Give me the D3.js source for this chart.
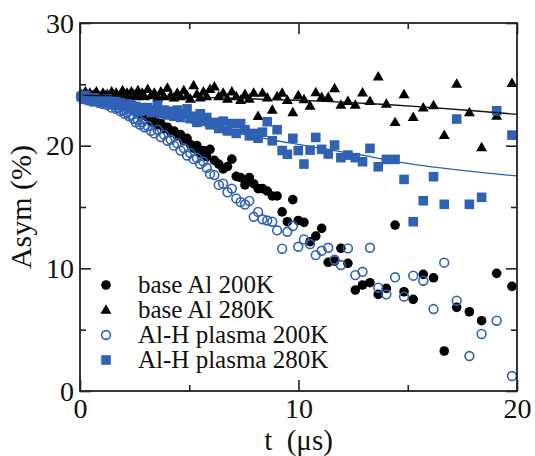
<!DOCTYPE html>
<html>
<head>
<meta charset="utf-8">
<script src="https://cdn.jsdelivr.net/npm/d3@7"></script>
<style>
  html, body { margin: 0; padding: 0; background: #fff; }
  svg { display: block; }
  svg text { font-family: "Liberation Serif", "Times New Roman", Times, "DejaVu Serif", serif !important; fill: #111; }
</style>
</head>
<body>
<svg id="chart" width="535" height="456"></svg>
<script>
// ---- data (time in µs, asymmetry in %) ----
const times = [
  0.05, 0.15, 0.25, 0.35, 0.45, 0.55, 0.65, 0.75, 0.85, 0.95,
  1.05, 1.15, 1.25, 1.35, 1.45, 1.55, 1.65, 1.75, 1.85, 1.95,
  2.05, 2.15, 2.25, 2.35, 2.45, 2.55, 2.65, 2.75, 2.85, 2.95,
  3.1, 3.25, 3.4, 3.55, 3.7, 3.85, 4.0, 4.15, 4.3, 4.45,
  4.6, 4.75, 4.9, 5.05, 5.2, 5.35, 5.5, 5.65, 5.8, 5.95,
  6.15, 6.35, 6.55, 6.75, 6.95, 7.15, 7.35, 7.55, 7.75, 7.95,
  8.15, 8.35, 8.57, 8.8, 9.02, 9.25, 9.49, 9.74, 9.99,
  10.25, 10.53, 10.79, 11.06, 11.36, 11.65, 11.94, 12.26, 12.6, 12.93,
  13.27, 13.65, 14.02, 14.42, 14.83, 15.25, 15.71, 16.18, 16.67, 17.24,
  17.82, 18.38, 19.07, 19.77
];

const baseAl200K = [
  24.1, 23.9, 24.2, 24.0, 23.8, 24.1, 23.9, 24.0, 23.7, 23.9,
  23.8, 24.0, 23.6, 23.8, 23.9, 23.5, 23.7, 23.6, 23.4, 23.6,
  23.3, 23.5, 23.1, 23.2, 22.9, 23.0, 22.7, 22.9, 22.5, 22.6,
  22.3, 22.0, 22.2, 21.7, 21.8, 21.4, 21.5, 21.1, 21.2, 20.8,
  20.9, 20.4, 20.6, 20.1, 19.8, 20.0, 19.4, 19.6, 19.1, 19.7,
  18.8, 18.5, 18.1, 18.3, 18.9, 17.5, 17.4, 16.8, 17.4, 16.9,
  16.5, 16.5, 16.3, 15.9, 15.9, 14.6, 13.8, 15.6, 13.9,
  13.75, 12.17, 12.63, 13.26, 10.49, 10.59, 11.63, 10.41, 8.23, 8.64,
  8.83, 7.88, 8.37, 13.53, 8.09, 7.47, 9.51, 9.23, 3.26, 6.82,
  6.46, 5.73, 9.59, 8.53
];

const baseAl280K = [
  24.2, 24.0, 24.4, 24.1, 24.3, 24.0, 24.2, 24.4, 24.1, 24.0,
  24.3, 24.1, 24.2, 24.0, 24.4, 24.1, 24.3, 24.0, 24.2, 24.5,
  24.1, 24.3, 24.0, 24.4, 24.2, 24.0, 24.5, 24.1, 24.3, 24.0,
  24.6, 24.1, 24.3, 23.9, 24.4, 24.0, 24.7, 24.1, 23.9, 24.3,
  24.0, 24.5, 24.1, 23.8, 24.9, 24.2, 23.9, 24.4, 24.0, 24.6,
  24.8, 24.0, 24.3, 23.8, 24.4, 24.0, 23.7, 24.2, 23.8, 24.3,
  22.4, 24.3, 23.9, 22.9, 24.0, 24.3, 23.7, 22.7, 24.1,
  23.77, 23.23, 24.34, 23.94, 23.94, 24.67, 23.31, 23.63, 23.31, 24.31,
  23.63, 25.62, 23.39, 21.9, 24.18, 22.31, 23.09, 23.28, 20.86, 25.02,
  22.71, 19.86, 22.41, 25.08
];

const alHPlasma200K = [
  24.0, 23.8, 23.9, 23.7, 23.9, 23.6, 23.8, 23.7, 23.5, 23.6,
  23.4, 23.6, 23.3, 23.4, 23.1, 23.3, 23.0, 23.1, 22.8, 22.9,
  22.6, 22.7, 22.4, 22.5, 22.2, 21.9, 22.1, 21.7, 21.9, 21.5,
  21.6, 21.2, 21.0, 21.3, 20.7, 20.9, 20.4, 20.5, 20.0, 20.2,
  19.6, 19.8, 19.2, 19.4, 18.9, 19.0, 18.5, 18.7, 18.2, 17.7,
  17.6, 16.8, 16.9, 16.2, 16.5, 15.7, 15.4, 15.2, 15.5, 14.2,
  14.6, 14.0, 13.9, 13.8, 13.1, 11.6, 12.98, 13.45, 11.76,
  12.36, 11.98, 11.08, 11.43, 11.68, 10.7, 10.27, 11.63, 9.45, 9.72,
  11.68, 8.42, 7.88, 9.27, 7.69, 9.4, 8.99, 6.68, 10.46, 7.36,
  2.85, 4.65, 5.73, 1.22
];

const alHPlasma280K = [
  24.0, 23.9, 24.1, 23.8, 23.9, 23.7, 23.9, 23.8, 23.6, 23.7,
  23.7, 23.5, 23.8, 23.5, 23.6, 23.4, 23.6, 23.3, 23.5, 23.4,
  23.2, 23.4, 23.1, 23.3, 23.0, 23.2, 23.0, 22.8, 23.1, 22.9,
  23.1, 22.7, 22.9, 23.3, 22.6, 22.9, 22.5, 22.8, 22.4, 22.9,
  22.3, 22.6, 23.0, 22.2, 22.4, 21.9, 22.6, 22.0, 22.3, 21.7,
  21.9, 21.4, 22.0, 21.2, 21.8, 21.0, 21.8, 21.3, 20.8, 21.0,
  20.6, 21.1, 21.95, 20.4, 21.3, 19.6, 19.3, 20.6, 19.6,
  18.5, 19.64, 20.67, 19.7, 19.32, 20.05, 19.02, 19.23, 19.02, 18.69,
  19.78, 18.28, 18.88, 18.88, 17.25, 13.8, 15.51, 17.47, 15.22, 22.17,
  15.22, 15.79, 22.85, 20.86
];

// fit curves
const fitT = [0, 2, 4, 6, 8, 10, 12, 14, 16, 18, 20];
const fit280Base = [24.1, 24.08, 24.02, 23.92, 23.8, 23.7, 23.55, 23.35, 23.12, 22.85, 22.55];
const fitT2 = [0, 1, 2, 3, 4, 5, 6, 7, 8, 9, 10, 11, 12, 13, 14, 15, 16, 17, 18, 19, 20];
const fit280Plasma = [24.1, 23.65, 23.2, 22.75, 22.3, 21.9, 21.5, 21.1, 20.75, 20.4, 20.1,
                      19.8, 19.5, 19.2, 18.85, 18.55, 18.3, 18.08, 17.88, 17.7, 17.53];

const legendLabels = ["base Al 200K", "base Al 280K", "Al-H plasma 200K", "Al-H plasma 280K"];
const xMajor = [0, 10, 20], xMinor = [5, 15];
const yMajor = [0, 10, 20, 30], yMinor = [5, 15, 25];

// ---- drawing ----
const SERIF = '"Liberation Serif", "Times New Roman", Times, "DejaVu Serif", serif';
const BLUE = "#2f62b4";
const svg = d3.select("#chart");
const L = 80, R = 517, T = 23, B = 391;
const x = d3.scaleLinear().domain([0, 20]).range([L, R]);
const y = d3.scaleLinear().domain([0, 30]).range([B, T]);

const zip = vals => times.map((t, i) => ({ t, v: vals[i] }));

const tri = d3.symbol().type(d3.symbolTriangle).size(52);

function drawMarker(g, kind) {
  if (kind === 0) g.append("circle").attr("r", 4.8).attr("fill", "#000");
  else if (kind === 1) g.append("path").attr("d", tri).attr("fill", "#000").attr("transform", "translate(0,0.6)");
  else if (kind === 2) g.append("circle").attr("r", 4.4).attr("fill", "none").attr("stroke", BLUE).attr("stroke-width", 1.6);
  else g.append("rect").attr("x", -4.8).attr("y", -4.8).attr("width", 9.6).attr("height", 9.6).attr("fill", BLUE);
}

const seriesList = [baseAl200K, baseAl280K, alHPlasma200K, alHPlasma280K];
const plot = svg.append("g");
seriesList.forEach((vals, k) => {
  const g = plot.append("g");
  g.selectAll("g").data(zip(vals)).join("g")
    .attr("transform", d => `translate(${x(d.t)},${y(d.v)})`)
    .each(function () { drawMarker(d3.select(this), k); });
});

// fit lines
const line = d3.line().x(d => x(d[0])).y(d => y(d[1])).curve(d3.curveMonotoneX);
svg.append("path").attr("d", line(fitT.map((t, i) => [t, fit280Base[i]])))
  .attr("fill", "none").attr("stroke", "#111").attr("stroke-width", 1.4);
svg.append("path").attr("d", line(fitT2.map((t, i) => [t, fit280Plasma[i]])))
  .attr("fill", "none").attr("stroke", BLUE).attr("stroke-width", 1.3);

// axes (inward ticks on all four sides)
function styleAxis(g) {
  g.attr("font-family", SERIF);
  g.select(".domain").remove();
  g.selectAll("line").attr("stroke", "#222").attr("stroke-width", 1.6);
}
const fmt = d3.format("d");
svg.append("g").attr("transform", `translate(0,${B})`)
  .call(d3.axisBottom(x).tickValues(xMajor).tickSize(-11).tickFormat(fmt))
  .call(styleAxis)
  .call(g => g.selectAll("text").attr("y", 27).attr("dy", 0)
    .attr("font-size", 28).style("font-family", SERIF).attr("fill", "#111"));
svg.append("g").attr("transform", `translate(0,${B})`)
  .call(d3.axisBottom(x).tickValues(xMinor).tickSize(-6).tickFormat(""))
  .call(styleAxis);
svg.append("g").attr("transform", `translate(0,${T})`)
  .call(d3.axisTop(x).tickValues(xMajor).tickSize(-11).tickFormat(""))
  .call(styleAxis);
svg.append("g").attr("transform", `translate(0,${T})`)
  .call(d3.axisTop(x).tickValues(xMinor).tickSize(-6).tickFormat(""))
  .call(styleAxis);
svg.append("g").attr("transform", `translate(${L},0)`)
  .call(d3.axisLeft(y).tickValues(yMajor).tickSize(-11).tickPadding(6).tickFormat(fmt))
  .call(styleAxis)
  .call(g => g.selectAll("text").attr("x", -6).attr("dy", "0.33em")
    .attr("font-size", 28).style("font-family", SERIF).attr("fill", "#111"));
svg.append("g").attr("transform", `translate(${L},0)`)
  .call(d3.axisLeft(y).tickValues(yMinor).tickSize(-6).tickFormat(""))
  .call(styleAxis);
svg.append("g").attr("transform", `translate(${R},0)`)
  .call(d3.axisRight(y).tickValues(yMajor).tickSize(-11).tickFormat(""))
  .call(styleAxis);
svg.append("g").attr("transform", `translate(${R},0)`)
  .call(d3.axisRight(y).tickValues(yMinor).tickSize(-6).tickFormat(""))
  .call(styleAxis);

// frame
svg.append("rect").attr("x", L).attr("y", T).attr("width", R - L).attr("height", B - T)
  .attr("fill", "none").attr("stroke", "#222").attr("stroke-width", 1.8);

// axis titles
svg.append("text").attr("x", (L + R) / 2).attr("y", 450).attr("text-anchor", "middle")
  .style("font-family", SERIF).attr("font-size", 29).style("white-space", "pre").text("t  (μs)");
svg.append("text").attr("transform", `translate(31,${(T + B) / 2}) rotate(-90)`)
  .style("font-family", SERIF).attr("text-anchor", "middle").attr("font-size", 30).text("Asym (%)");

// legend
const legY = [285, 310, 335, 360];
legendLabels.forEach((lab, k) => {
  const g = svg.append("g").attr("transform", `translate(106,${legY[k]})`);
  drawMarker(g, k);
  svg.append("text").attr("x", 138).attr("y", legY[k] + 8)
    .style("font-family", SERIF).attr("font-size", 25).text(lab);
});
</script>
</body>
</html>
